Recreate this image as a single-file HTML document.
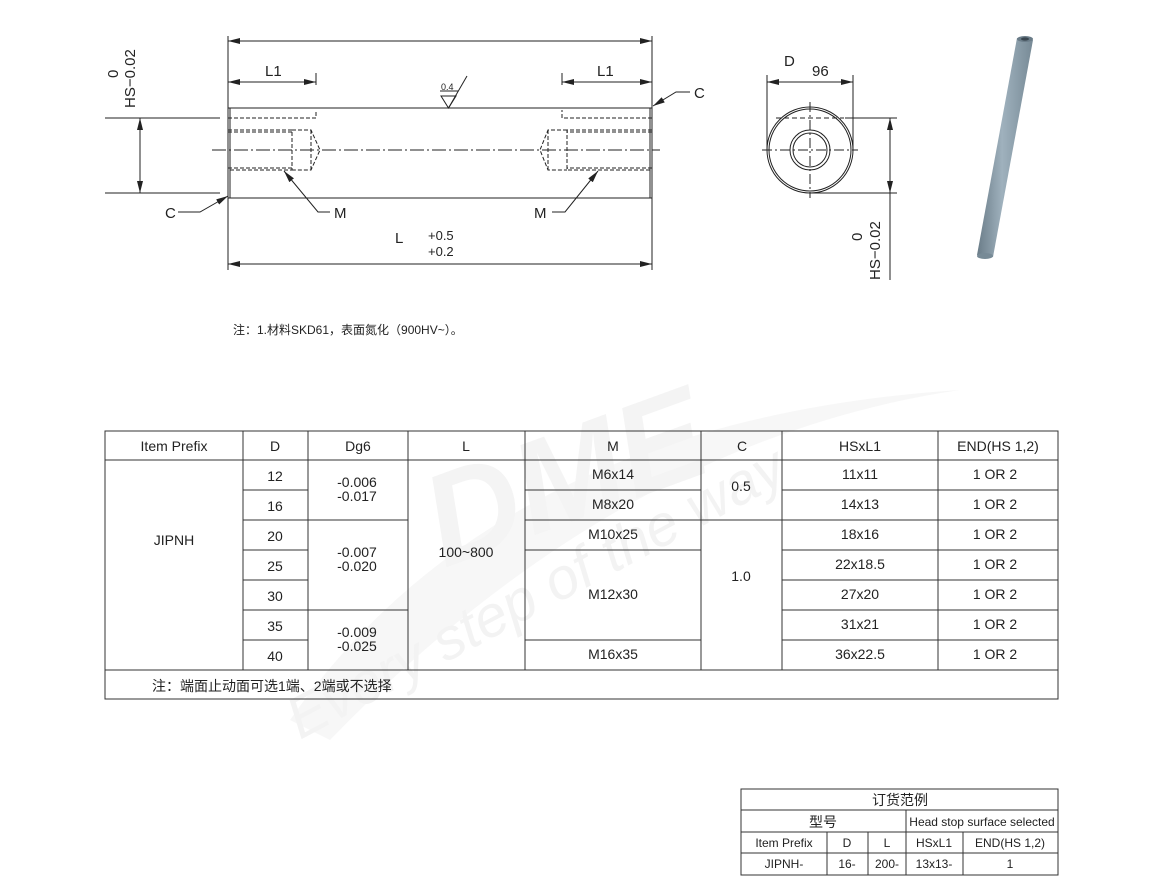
<!DOCTYPE html>
<html><head><meta charset="utf-8"><style>
html,body{margin:0;padding:0;background:#fff;width:1163px;height:895px;overflow:hidden}
svg{display:block}
text{font-family:"Liberation Sans","Noto Sans CJK SC",sans-serif;fill:#222}
</style></head><body>
<svg width="1163" height="895" viewBox="0 0 1163 895" xmlns="http://www.w3.org/2000/svg">
<defs>
<marker id="a" viewBox="0 0 12 6" refX="12" refY="3" markerWidth="12" markerHeight="6" orient="auto-start-reverse" markerUnits="userSpaceOnUse"><path d="M0,0L12,3L0,6z" fill="#222"/></marker>
<linearGradient id="rod" x1="0" y1="0" x2="1" y2="0"><stop offset="0" stop-color="#6a7c88"/><stop offset="0.45" stop-color="#9fb1bd"/><stop offset="1" stop-color="#778a96"/></linearGradient>
</defs>
<!-- watermark -->
<path d="M290,720 Q500,420 960,390 Q620,440 330,740 Z" fill="#f7f7f7"/>
<text x="420" y="530" font-size="130" font-weight="bold" font-style="italic" style="fill:#f4f4f4" transform="rotate(-20 540 480)">DME</text>
<text x="300" y="740" font-size="58" font-style="italic" font-family="Liberation Serif" style="fill:#f3f3f3" transform="rotate(-28 300 740)">Every step of the way</text>

<g stroke="#222" stroke-width="1" fill="none">
<line x1="228" y1="36" x2="228" y2="108"/><line x1="652" y1="36" x2="652" y2="108"/>
<line x1="228" y1="41" x2="652" y2="41" marker-start="url(#a)" marker-end="url(#a)"/>
<line x1="316" y1="73" x2="316" y2="85"/><line x1="228" y1="82" x2="316" y2="82" marker-start="url(#a)" marker-end="url(#a)"/>
<line x1="562" y1="73" x2="562" y2="85"/><line x1="562" y1="82" x2="652" y2="82" marker-start="url(#a)" marker-end="url(#a)"/>
<rect x="228" y="108" width="424" height="90"/>
<line x1="230" y1="108" x2="230" y2="198"/><line x1="650" y1="108" x2="650" y2="198"/>
<g stroke-dasharray="4,2">
<path d="M228,118H316V110"/><path d="M652,118H562V110"/>
<path d="M228,130H292V170H228"/><path d="M228,132H292M228,168H292"/>
<path d="M292,130H311L320,150L311,170H292M311,130V170"/>
<path d="M652,130H567V170H652"/><path d="M652,132H567M652,168H567"/>
<path d="M567,130H548L540,150L548,170H567M548,130V170"/>
</g>
<line x1="212" y1="150" x2="660" y2="150" stroke-dasharray="14,3,2,3"/>
<line x1="105" y1="118" x2="220" y2="118"/><line x1="105" y1="193" x2="220" y2="193"/>
<line x1="140" y1="118" x2="140" y2="193" marker-start="url(#a)" marker-end="url(#a)"/>
<path d="M441,96H456L448.5,108Z"/><line x1="448.5" y1="108" x2="467" y2="76"/><line x1="440" y1="91" x2="458" y2="91"/>
<path d="M178,212H200L228,196" marker-end="url(#a)"/>
<path d="M330,212H318L284,171" marker-end="url(#a)"/>
<path d="M552,212H565L598,171" marker-end="url(#a)"/>
<path d="M690,92H676L653,106" marker-end="url(#a)"/>
<line x1="228" y1="198" x2="228" y2="270"/><line x1="652" y1="198" x2="652" y2="270"/>
<line x1="228" y1="264" x2="652" y2="264" marker-start="url(#a)" marker-end="url(#a)"/>
<line x1="767" y1="75" x2="767" y2="150"/><line x1="853" y1="75" x2="853" y2="150"/>
<line x1="767" y1="82" x2="853" y2="82" marker-start="url(#a)" marker-end="url(#a)"/>
<circle cx="810" cy="150" r="43"/><circle cx="810" cy="150" r="41"/>
<circle cx="810" cy="150" r="20"/><circle cx="810" cy="150" r="17"/>
<line x1="776" y1="118" x2="844" y2="118" stroke-dasharray="5,3"/>
<line x1="762" y1="150" x2="858" y2="150" stroke-dasharray="10,3,2,3"/>
<line x1="810" y1="102" x2="810" y2="198" stroke-dasharray="10,3,2,3"/>
<line x1="845" y1="118" x2="897" y2="118"/><line x1="810" y1="193" x2="897" y2="193"/>
<line x1="890" y1="118" x2="890" y2="193" marker-start="url(#a)" marker-end="url(#a)"/>
<line x1="890" y1="193" x2="890" y2="280"/>
</g>
<path d="M1017,38 L1033,40 L993,257 L977,255 Z" fill="url(#rod)"/>
<ellipse cx="1025" cy="39" rx="8" ry="3" fill="#6a7c88"/>
<ellipse cx="1025" cy="39" rx="4" ry="1.6" fill="#3a4650"/>
<ellipse cx="985" cy="256" rx="8" ry="3" fill="#778a96"/>

<g font-size="15">
<text x="265" y="76">L1</text><text x="597" y="76">L1</text>
<text x="165" y="218">C</text><text x="334" y="218">M</text><text x="534" y="218">M</text>
<text x="694" y="98">C</text>
<text x="395" y="243">L</text>
<text x="784" y="66">D</text><text x="812" y="76">96</text>
<text transform="translate(135,108) rotate(-90)">HS−0.02</text>
<text transform="translate(118,78) rotate(-90)">0</text>
<text transform="translate(880,280) rotate(-90)">HS−0.02</text>
<text transform="translate(862,241) rotate(-90)">0</text>
</g>
<g font-size="13"><text x="428" y="240">+0.5</text><text x="428" y="256">+0.2</text></g>
<text x="441" y="90" font-size="9">0.4</text>
<text x="233" y="334" font-size="12">注：1.材料SKD61，表面氮化（900HV~）。</text>

<g stroke="#333" stroke-width="1" fill="none">
<rect x="105" y="431" width="953" height="268"/>
<line x1="105" y1="460" x2="1058" y2="460"/>
<line x1="105" y1="670" x2="1058" y2="670"/>
<line x1="243" y1="431" x2="243" y2="670"/><line x1="308" y1="431" x2="308" y2="670"/>
<line x1="408" y1="431" x2="408" y2="670"/><line x1="525" y1="431" x2="525" y2="670"/>
<line x1="701" y1="431" x2="701" y2="670"/><line x1="782" y1="431" x2="782" y2="670"/>
<line x1="938" y1="431" x2="938" y2="670"/>
<path d="M243,490H308M243,520H408M243,550H308M243,580H308M243,610H408M243,640H308"/>
<path d="M525,490H701M525,520H782M525,550H701M525,640H701"/>
<path d="M782,490H1058M782,520H1058M782,550H1058M782,580H1058M782,610H1058M782,640H1058"/>
</g>
<g font-size="14" text-anchor="middle">
<text x="174" y="451">Item Prefix</text><text x="275" y="451">D</text><text x="358" y="451">Dg6</text>
<text x="466" y="451">L</text><text x="613" y="451">M</text><text x="742" y="451">C</text>
<text x="860" y="451">HSxL1</text><text x="998" y="451">END(HS 1,2)</text>
<text x="174" y="545">JIPNH</text>
<text x="275" y="481">12</text><text x="275" y="511">16</text><text x="275" y="541">20</text>
<text x="275" y="571">25</text><text x="275" y="601">30</text><text x="275" y="631">35</text><text x="275" y="661">40</text>
<text x="357" y="487">-0.006</text><text x="357" y="501">-0.017</text>
<text x="357" y="557">-0.007</text><text x="357" y="571">-0.020</text>
<text x="357" y="637">-0.009</text><text x="357" y="651">-0.025</text>
<text x="466" y="557">100~800</text>
<text x="613" y="479">M6x14</text><text x="613" y="509">M8x20</text><text x="613" y="539">M10x25</text>
<text x="613" y="599">M12x30</text><text x="613" y="659">M16x35</text>
<text x="741" y="491">0.5</text><text x="741" y="581">1.0</text>
<text x="860" y="479">11x11</text><text x="860" y="509">14x13</text><text x="860" y="539">18x16</text>
<text x="860" y="569">22x18.5</text><text x="860" y="599">27x20</text><text x="860" y="629">31x21</text><text x="860" y="659">36x22.5</text>
<text x="995" y="479">1 OR 2</text><text x="995" y="509">1 OR 2</text><text x="995" y="539">1 OR 2</text>
<text x="995" y="569">1 OR 2</text><text x="995" y="599">1 OR 2</text><text x="995" y="629">1 OR 2</text><text x="995" y="659">1 OR 2</text>
</g>
<text x="152" y="691" font-size="14">注：端面止动面可选1端、2端或不选择</text>

<g stroke="#333" stroke-width="1" fill="none">
<rect x="741" y="789" width="317" height="86"/>
<path d="M741,810H1058M741,832H1058M741,853H1058"/>
<line x1="906" y1="810" x2="906" y2="875"/>
<line x1="827" y1="832" x2="827" y2="875"/><line x1="868" y1="832" x2="868" y2="875"/>
<line x1="963" y1="832" x2="963" y2="875"/>
</g>
<g text-anchor="middle" font-size="12">
<text x="900" y="805" font-size="14">订货范例</text>
<text x="823" y="827" font-size="14">型号</text>
<text x="982" y="826">Head stop surface selected</text>
<text x="784" y="847">Item Prefix</text><text x="847" y="847">D</text><text x="887" y="847">L</text>
<text x="934" y="847">HSxL1</text><text x="1010" y="847">END(HS 1,2)</text>
<text x="784" y="868">JIPNH-</text><text x="847" y="868">16-</text><text x="887" y="868">200-</text>
<text x="934" y="868">13x13-</text><text x="1010" y="868">1</text>
</g>
</svg>
</body></html>
